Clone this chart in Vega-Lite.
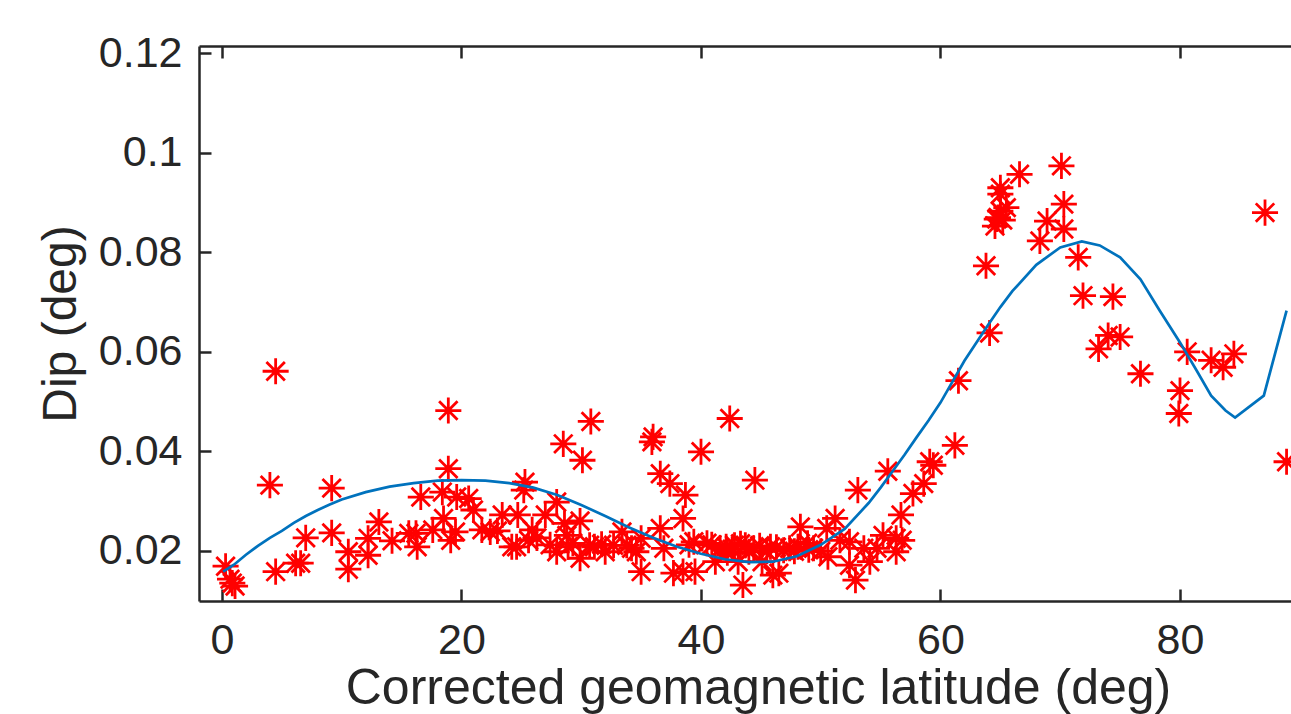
{
  "$schema": "https://vega.github.io/schema/vega-lite/v6.json",
  "autosize": "none",
  "width": 1092,
  "height": 555,
  "padding": {"left": 199, "top": 46, "right": 0, "bottom": 113},
  "background": "white",
  "config": {
    "view": {"stroke": null},
    "axis": {
      "domainColor": "#262626",
      "domainWidth": 2.5,
      "tickColor": "#262626",
      "tickWidth": 2.5,
      "tickSize": -12,
      "grid": false,
      "labelFont": "Liberation Sans",
      "labelFontSize": 43,
      "labelColor": "#262626",
      "titleFont": "Liberation Sans",
      "titleFontSize": 50,
      "titleFontWeight": "normal",
      "titleColor": "#262626"
    }
  },
  "datasets": {
    "pts": [
      {"x":0.3,"y":0.0169},{"x":0.67,"y":0.0143},{"x":1.09,"y":0.0129},{"x":0.86,"y":0.0135},{"x":4.0,"y":0.0332},{"x":4.48,"y":0.0561},{"x":4.48,"y":0.0158},{"x":6.15,"y":0.0175},{"x":6.57,"y":0.0175},{"x":6.99,"y":0.0226},{"x":9.16,"y":0.0326},{"x":9.16,"y":0.0236},{"x":10.55,"y":0.0198},{"x":10.55,"y":0.0163},{"x":12.2,"y":0.0225},{"x":12.2,"y":0.0191},{"x":13.1,"y":0.0258},{"x":14.2,"y":0.022},{"x":15.6,"y":0.0235},{"x":16.2,"y":0.0235},{"x":16.3,"y":0.0208},{"x":16.6,"y":0.0308},{"x":17.6,"y":0.0242},{"x":18.4,"y":0.0318},{"x":18.5,"y":0.0265},{"x":18.9,"y":0.0482},{"x":18.9,"y":0.0365},{"x":19.1,"y":0.0221},{"x":19.6,"y":0.0308},{"x":20.6,"y":0.0305},{"x":21.0,"y":0.0282},{"x":19.5,"y":0.0238},{"x":21.7,"y":0.0242},{"x":22.4,"y":0.0238},{"x":23.4,"y":0.0272},{"x":24.7,"y":0.0272},{"x":24.2,"y":0.0208},{"x":24.6,"y":0.0208},{"x":25.6,"y":0.0221},{"x":25.9,"y":0.0242},{"x":25.3,"y":0.0338},{"x":25.2,"y":0.0322},{"x":27.0,"y":0.0272},{"x":27.95,"y":0.0298},{"x":28.5,"y":0.0415},{"x":28.6,"y":0.0255},{"x":29.9,"y":0.026},{"x":30.1,"y":0.0382},{"x":30.8,"y":0.046},{"x":27.95,"y":0.0198},{"x":28.8,"y":0.0231},{"x":28.9,"y":0.0208},{"x":29.9,"y":0.0185},{"x":30.7,"y":0.0211},{"x":31.1,"y":0.0208},{"x":32.0,"y":0.0198},{"x":32.7,"y":0.0211},{"x":33.4,"y":0.0238},{"x":33.8,"y":0.0211},{"x":34.6,"y":0.0198},{"x":35.0,"y":0.0225},{"x":35.0,"y":0.0158},{"x":36.0,"y":0.0429},{"x":35.9,"y":0.0419},{"x":36.6,"y":0.0355},{"x":37.4,"y":0.0335},{"x":36.6,"y":0.0245},{"x":36.9,"y":0.0205},{"x":38.7,"y":0.0312},{"x":38.5,"y":0.0265},{"x":37.7,"y":0.0155},{"x":38.5,"y":0.0158},{"x":39.4,"y":0.0218},{"x":40.0,"y":0.0399},{"x":42.4,"y":0.0466},{"x":44.5,"y":0.0342},{"x":39.5,"y":0.0158},{"x":40.5,"y":0.0215},{"x":41.2,"y":0.0178},{"x":42.1,"y":0.0208},{"x":42.8,"y":0.0211},{"x":43.1,"y":0.0178},{"x":43.7,"y":0.0211},{"x":43.5,"y":0.0131},{"x":44.4,"y":0.0205},{"x":45.1,"y":0.0178},{"x":45.8,"y":0.0208},{"x":46.0,"y":0.0151},{"x":46.5,"y":0.0155},{"x":46.9,"y":0.0201},{"x":47.4,"y":0.0205},{"x":48.1,"y":0.0208},{"x":48.3,"y":0.0248},{"x":48.9,"y":0.0215},{"x":49.4,"y":0.0205},{"x":50.5,"y":0.0245},{"x":50.6,"y":0.0188},{"x":51.2,"y":0.0265},{"x":51.6,"y":0.0221},{"x":52.4,"y":0.0218},{"x":52.4,"y":0.0171},{"x":52.9,"y":0.0141},{"x":53.1,"y":0.0322},{"x":53.6,"y":0.0205},{"x":54.1,"y":0.0178},{"x":54.7,"y":0.0205},{"x":55.2,"y":0.0231},{"x":55.6,"y":0.036},{"x":56.3,"y":0.0225},{"x":56.3,"y":0.0198},{"x":56.7,"y":0.0272},{"x":57.7,"y":0.0315},{"x":58.6,"y":0.0335},{"x":59.1,"y":0.0379},{"x":59.4,"y":0.0372},{"x":56.8,"y":0.0221},{"x":61.2,"y":0.0412},{"x":61.5,"y":0.0542},{"x":64.1,"y":0.0638},{"x":63.8,"y":0.0773},{"x":64.55,"y":0.0853},{"x":64.7,"y":0.0867},{"x":65.0,"y":0.0883},{"x":65.5,"y":0.089},{"x":65.0,"y":0.093},{"x":65.0,"y":0.0917},{"x":66.6,"y":0.0957},{"x":68.3,"y":0.0823},{"x":68.9,"y":0.0863},{"x":70.1,"y":0.0974},{"x":70.3,"y":0.0897},{"x":70.3,"y":0.0847},{"x":71.5,"y":0.079},{"x":71.9,"y":0.0713},{"x":73.2,"y":0.0606},{"x":74.0,"y":0.0633},{"x":75.0,"y":0.063},{"x":74.4,"y":0.0711},{"x":76.7,"y":0.0556},{"x":80.6,"y":0.06},{"x":80.0,"y":0.0522},{"x":79.9,"y":0.0476},{"x":82.6,"y":0.0583},{"x":83.6,"y":0.0569},{"x":84.5,"y":0.0596},{"x":87.1,"y":0.088},{"x":88.9,"y":0.0379},
      {"x":40.9,"y":0.0212},{"x":41.6,"y":0.0205},{"x":42.6,"y":0.0203},{"x":44.0,"y":0.0198},{"x":44.9,"y":0.021},{"x":45.5,"y":0.0199},{"x":46.3,"y":0.0207},{"x":47.8,"y":0.0199},{"x":49.0,"y":0.0202},{"x":50.0,"y":0.0199},{"x":42.2,"y":0.0196},{"x":43.3,"y":0.0214},{"x":39.0,"y":0.0212},{"x":34.2,"y":0.0205},{"x":31.7,"y":0.0213},{"x":27.4,"y":0.0212},{"x":29.3,"y":0.0215},{"x":26.3,"y":0.0226},{"x":23.0,"y":0.024},{"x":64.8,"y":0.087},{"x":65.2,"y":0.0865}
    ],
    "fit": [
      {"x":0.1,"y":0.0158},{"x":1,"y":0.0172},{"x":2,"y":0.0192},{"x":3,"y":0.021},{"x":4,"y":0.0226},{"x":5,"y":0.024},{"x":6,"y":0.0256},{"x":7,"y":0.027},{"x":8,"y":0.0282},{"x":9,"y":0.0293},{"x":10,"y":0.0303},{"x":12,"y":0.0318},{"x":14,"y":0.0329},{"x":16,"y":0.0336},{"x":18,"y":0.0341},{"x":20,"y":0.0342},{"x":22,"y":0.0341},{"x":24,"y":0.0336},{"x":26,"y":0.0327},{"x":28,"y":0.0312},{"x":30,"y":0.0292},{"x":32,"y":0.027},{"x":34,"y":0.0247},{"x":36,"y":0.0226},{"x":38,"y":0.0208},{"x":40,"y":0.0194},{"x":42,"y":0.0183},{"x":44,"y":0.0177},{"x":46,"y":0.0178},{"x":48,"y":0.0189},{"x":50,"y":0.0212},{"x":52,"y":0.0244},{"x":54,"y":0.0296},{"x":55,"y":0.0327},{"x":56,"y":0.036},{"x":57,"y":0.0393},{"x":58,"y":0.0428},{"x":59,"y":0.0462},{"x":60,"y":0.0498},{"x":62,"y":0.0582},{"x":64,"y":0.0655},{"x":65,"y":0.069},{"x":66,"y":0.0722},{"x":68,"y":0.0775},{"x":70,"y":0.081},{"x":71.8,"y":0.0822},{"x":73.3,"y":0.0814},{"x":75,"y":0.079},{"x":76.7,"y":0.0746},{"x":78.3,"y":0.0683},{"x":80,"y":0.0619},{"x":81.4,"y":0.0562},{"x":82.6,"y":0.0512},{"x":83.8,"y":0.0482},{"x":84.6,"y":0.0468},{"x":87.0,"y":0.0512},{"x":88.9,"y":0.0683}
    ]
  },
  "layer": [
    {
      "data": {"name": "pts"},
      "mark": {
        "type": "point",
        "shape": "M0,-1L0,1M-1,0L1,0M-0.707,-0.707L0.707,0.707M-0.707,0.707L0.707,-0.707",
        "filled": false,
        "stroke": "#FF0000",
        "strokeWidth": 2.8,
        "size": 680,
        "opacity": 1
      },
      "encoding": {
        "x": {
          "field": "x", "type": "quantitative",
          "scale": {"domain": [-1.92, 89.27], "nice": false, "zero": false},
          "axis": {"orient": "bottom", "values": [0, 20, 40, 60, 80], "labelPadding": 30,
                   "title": "Corrected geomagnetic latitude (deg)", "titleBaseline": "alphabetic", "titleY": 102, "titleX": 559, "titleAnchor": null, "titleAlign": "center"}
        },
        "y": {
          "field": "y", "type": "quantitative",
          "scale": {"domain": [0.0099, 0.1215], "nice": false, "zero": false},
          "axis": {"orient": "left", "values": [0.02, 0.04, 0.06, 0.08, 0.1, 0.12], "labelPadding": 29,
                   "labelExpr": "format(datum.value, '.2~f')",
                   "title": "Dip (deg)", "titleFontSize": 48, "titleBaseline": "alphabetic", "titleX": -124}
        }
      }
    },
    {
      "data": {"name": "fit"},
      "mark": {"type": "line", "color": "#0072BD", "strokeWidth": 2.7, "clip": true},
      "encoding": {
        "x": {
          "field": "x", "type": "quantitative",
          "scale": {"domain": [-1.92, 89.27], "nice": false, "zero": false},
          "axis": {"orient": "top", "values": [0, 20, 40, 60, 80], "labels": false, "title": null}
        },
        "y": {"field": "y", "type": "quantitative"}
      }
    }
  ],
  "resolve": {"axis": {"x": "independent"}}
}
